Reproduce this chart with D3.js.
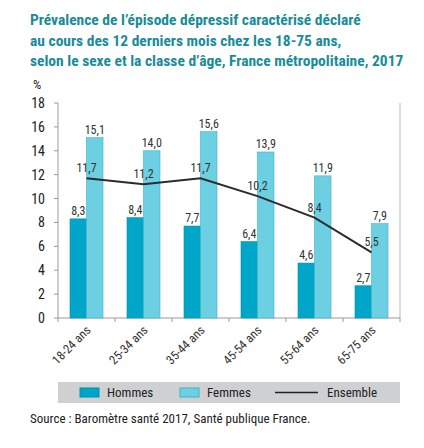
<!DOCTYPE html>
<html><head><meta charset="utf-8">
<script src="https://cdn.jsdelivr.net/npm/d3@7"></script>
<style>body{margin:0;background:#fff}</style>
</head><body><div id="chart"></div>
<script>
const categories = ["18-24 ans", "25-34 ans", "35-44 ans", "45-54 ans", "55-64 ans", "65-75 ans"];
const hommes = [8.3, 8.4, 7.7, 6.4, 4.6, 2.7];
const femmes = [15.1, 14.0, 15.6, 13.9, 11.9, 7.9];
const ensemble = [11.7, 11.2, 11.7, 10.2, 8.4, 5.5];
const yTicks = [0, 2, 4, 6, 8, 10, 12, 14, 16, 18];
const titleLines = [
  "Prévalence de l’épisode dépressif caractérisé déclaré",
  "au cours des 12 derniers mois chez les 18-75 ans,",
  "selon le sexe et la classe d’âge, France métropolitaine, 2017"
];

const font = "'Liberation Sans Narrow', 'Roboto Condensed', 'Arial Narrow', sans-serif";
const fmt = v => d3.format(".1f")(v).replace(".", ",");
const cH = "#00a6c7", cF = "#6ccfe2";

const svg = d3.select("#chart").append("svg")
  .attr("width", 424).attr("height", 448)
  .style("font-family", font);

svg.selectAll(".title").data(titleLines).enter().append("text")
  .attr("x", 30).attr("y", (d, i) => 25 + i * 20.5)
  .attr("fill", "#1a8c98").attr("font-weight", "bold").attr("font-size", 15.5)
  .text(d => d);

const x = d3.scaleBand().domain(categories).range([58, 400]);
const y = d3.scaleLinear().domain([0, 18]).range([318, 103]);

// axes
svg.append("line").attr("x1", 58).attr("x2", 58).attr("y1", 103).attr("y2", 318).attr("stroke", "#999");
svg.append("line").attr("x1", 400).attr("x2", 400).attr("y1", 103).attr("y2", 318).attr("stroke", "#bbb");
svg.append("line").attr("x1", 58).attr("x2", 400).attr("y1", 318).attr("y2", 318).attr("stroke", "#999");
svg.selectAll(".xt").data(categories.concat([null])).enter().append("line")
  .attr("x1", (d, i) => 58 + i * x.bandwidth()).attr("x2", (d, i) => 58 + i * x.bandwidth())
  .attr("y1", 318).attr("y2", 322).attr("stroke", "#999");
svg.selectAll(".yt").data(yTicks).enter().append("line")
  .attr("x1", 54).attr("x2", 58).attr("y1", d => y(d)).attr("y2", d => y(d)).attr("stroke", "#999");
svg.selectAll(".yl").data(yTicks).enter().append("text")
  .attr("x", 45).attr("y", d => y(d) + 5).attr("text-anchor", "end")
  .attr("font-size", 14).attr("fill", "#222").text(d => d);
svg.append("text").attr("x", 33).attr("y", 89).attr("font-size", 13).attr("fill", "#222").text("%");

const bw = 16.5;
const cx = d => x(d) + x.bandwidth() / 2;

svg.selectAll(".bh").data(categories).enter().append("rect")
  .attr("x", d => cx(d) - bw).attr("width", bw)
  .attr("y", (d, i) => y(hommes[i])).attr("height", (d, i) => 318 - y(hommes[i]))
  .attr("fill", cH).attr("stroke", "#0090ae").attr("stroke-width", 0.6);
svg.selectAll(".bf").data(categories).enter().append("rect")
  .attr("x", d => cx(d)).attr("width", bw)
  .attr("y", (d, i) => y(femmes[i])).attr("height", (d, i) => 318 - y(femmes[i]))
  .attr("fill", cF).attr("stroke", "#3fb3c9").attr("stroke-width", 0.6);

svg.selectAll(".lh").data(categories).enter().append("text")
  .attr("x", d => cx(d) - bw / 2).attr("y", (d, i) => y(hommes[i]) - 4)
  .attr("text-anchor", "middle").attr("font-size", 12).attr("fill", "#333")
  .text((d, i) => fmt(hommes[i]));
svg.selectAll(".lf").data(categories).enter().append("text")
  .attr("x", d => cx(d) + bw / 2).attr("y", (d, i) => y(femmes[i]) - 4)
  .attr("text-anchor", "middle").attr("font-size", 12).attr("fill", "#333")
  .text((d, i) => fmt(femmes[i]));

const line = d3.line().x((d, i) => cx(categories[i])).y(d => y(d));
svg.append("path").datum(ensemble).attr("d", line)
  .attr("fill", "none").attr("stroke", "#2b2b2b").attr("stroke-width", 2);
svg.selectAll(".le").data(categories).enter().append("text")
  .attr("x", d => cx(d)).attr("y", (d, i) => y(ensemble[i]) - 6)
  .attr("text-anchor", "middle").attr("font-size", 12).attr("fill", "#333")
  .text((d, i) => fmt(ensemble[i]));

svg.selectAll(".xl").data(categories).enter().append("text")
  .attr("transform", d => `translate(${cx(d) + 5},${331}) rotate(-45)`)
  .attr("text-anchor", "end").attr("font-size", 12.5).attr("fill", "#333")
  .text(d => d);

// legend
svg.append("rect").attr("x", 58).attr("y", 382).attr("width", 342).attr("height", 21).attr("fill", "#cfd0d2");
const lg = svg.append("g").attr("font-size", 13).attr("fill", "#222");
lg.append("rect").attr("x", 80).attr("y", 388).attr("width", 19).attr("height", 9).attr("fill", cH).attr("stroke", "#0090ae");
lg.append("text").attr("x", 107).attr("y", 397).text("Hommes");
lg.append("rect").attr("x", 180).attr("y", 388).attr("width", 19).attr("height", 9).attr("fill", cF).attr("stroke", "#3fb3c9");
lg.append("text").attr("x", 207).attr("y", 397).text("Femmes");
lg.append("line").attr("x1", 275).attr("x2", 318).attr("y1", 392.5).attr("y2", 392.5).attr("stroke", "#222").attr("stroke-width", 1.5);
lg.append("text").attr("x", 327).attr("y", 397).text("Ensemble");

svg.append("text").attr("x", 30).attr("y", 423).attr("font-size", 13).attr("fill", "#222")
  .text("Source : Baromètre santé 2017, Santé publique France.");
</script></body></html>
